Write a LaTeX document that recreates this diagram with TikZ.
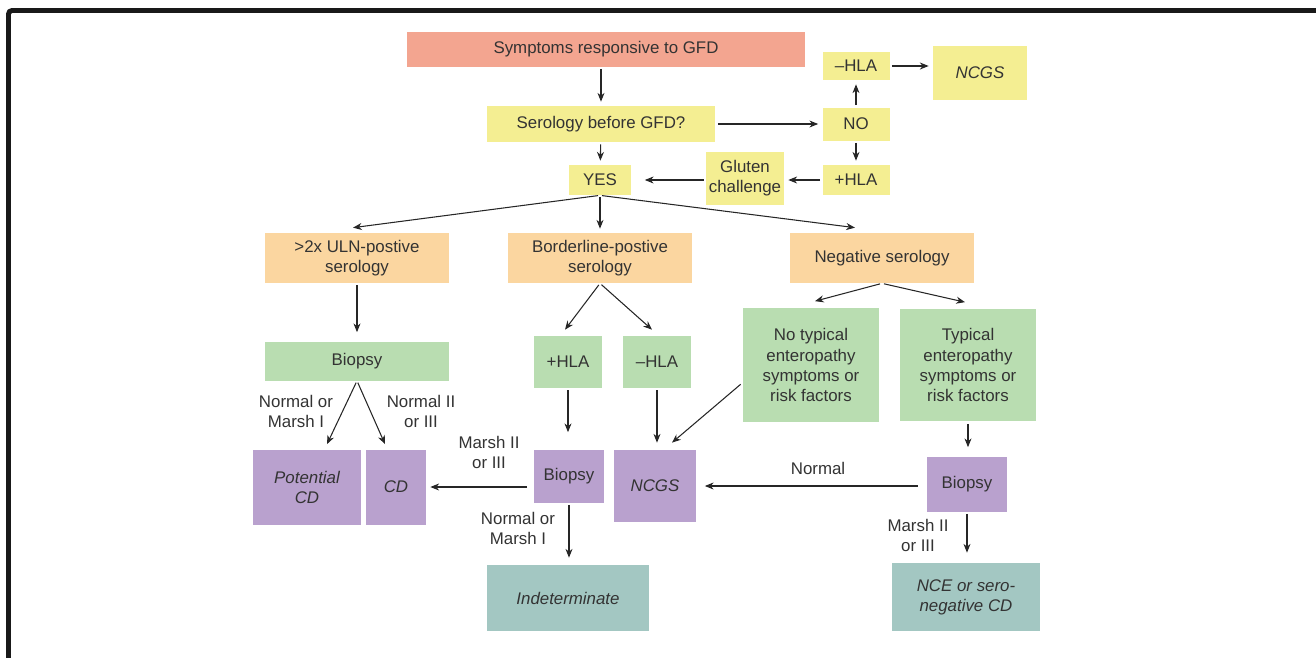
\documentclass[tikz,border=0pt]{standalone}
\usepackage{fontspec}
\setmainfont{Liberation Sans}
\usetikzlibrary{arrows.meta}
\definecolor{salmon}{HTML}{F3A590}
\definecolor{paleyellow}{HTML}{F4EE92}
\definecolor{peach}{HTML}{FBD6A0}
\definecolor{leafgreen}{HTML}{B9DDB1}
\definecolor{lilac}{HTML}{B9A1CE}
\definecolor{seafoam}{HTML}{A3C7C2}
\definecolor{inkgray}{HTML}{333333}
\tikzset{
  box/.style={inner sep=1pt, align=center, text=inkgray,
    font=\fontsize{9.6}{11.4}\selectfont},
  outcome/.style={box, font=\fontsize{9.6}{11.4}\selectfont\itshape},
  arr/.style={-{Stealth[length=5pt,width=4pt]}, line width=0.6pt, black!85,
    shorten >=0.08cm, shorten <=0.04cm},
  lbl/.style={align=center, text=inkgray, inner sep=0pt,
    font=\fontsize{9.6}{11.4}\selectfont}
}

\begin{document}
\begin{tikzpicture}[x=0.02cm, y=-0.02cm]
    \useasboundingbox (0,0) rectangle (1316,657);
    % frame
    \draw[line width=2.8pt, black!90, rounded corners=2pt] (8.5,670) -- (8.5,10.5) -- (1330,10.5);

    % top part
    \node[box, fill=salmon, minimum width=7.98cm, minimum height=0.70cm] (sym) at (606,49) {Symptoms responsive to GFD};
    \node[box, fill=paleyellow, minimum width=4.58cm, minimum height=0.72cm] (sero) at (601,124) {Serology before GFD?};
    \node[box, fill=paleyellow, minimum width=1.34cm, minimum height=0.56cm] (hlaneg) at (856,66) {--HLA};
    \node[outcome, fill=paleyellow, minimum width=1.88cm, minimum height=1.08cm] (ncgstop) at (980,73) {NCGS};
    \node[box, fill=paleyellow, minimum width=1.34cm, minimum height=0.66cm] (no) at (856,124) {NO};
    \node[box, fill=paleyellow, minimum width=1.34cm, minimum height=0.60cm] (hlapos) at (856,180) {+HLA};
    \node[box, fill=paleyellow, minimum width=1.56cm, minimum height=1.06cm] (gluten) at (745,178) {Gluten\\challenge};
    \node[box, fill=paleyellow, minimum width=1.26cm, minimum height=0.60cm] (yes) at (600,180) {YES};

    % serology results
    \node[box, fill=peach, minimum width=3.68cm, minimum height=1.00cm] (uln) at (357,258) {>2x ULN-postive\\serology};
    \node[box, fill=peach, minimum width=3.70cm, minimum height=1.00cm] (border) at (600,258) {Borderline-postive\\serology};
    \node[box, fill=peach, minimum width=3.70cm, minimum height=1.00cm] (neg) at (882,258) {Negative serology};

    % second level
    \node[box, fill=leafgreen, minimum width=3.70cm, minimum height=0.78cm] (biopleft) at (357,361) {Biopsy};
    \node[box, fill=leafgreen, minimum width=1.36cm, minimum height=1.04cm] (hlaplus) at (568,362) {+HLA};
    \node[box, fill=leafgreen, minimum width=1.36cm, minimum height=1.04cm] (hlaminus) at (657,362) {--HLA};
    \node[box, fill=leafgreen, minimum width=2.74cm, minimum height=2.30cm] (notypical) at (811,365) {No typical\\enteropathy\\symptoms or\\risk factors};
    \node[box, fill=leafgreen, minimum width=2.72cm, minimum height=2.26cm] (typical) at (968,365) {Typical\\enteropathy\\symptoms or\\risk factors};

    % outcomes
    \node[outcome, fill=lilac, minimum width=2.16cm, minimum height=1.50cm] (potcd) at (307,487) {Potential\\CD};
    \node[outcome, fill=lilac, minimum width=1.20cm, minimum height=1.50cm] (cd) at (396,487) {CD};
    \node[box, fill=lilac, minimum width=1.42cm, minimum height=1.06cm] (biopmid) at (569,476) {Biopsy};
    \node[outcome, fill=lilac, minimum width=1.66cm, minimum height=1.44cm] (ncgsmid) at (655,486) {NCGS};
    \node[box, fill=lilac, minimum width=1.60cm, minimum height=1.10cm] (biopright) at (967,484) {Biopsy};
    \node[outcome, fill=seafoam, minimum width=3.26cm, minimum height=1.32cm] (indet) at (568,598) {Indeterminate};
    \node[outcome, fill=seafoam, minimum width=2.98cm, minimum height=1.36cm] (nce) at (966,597) {NCE or sero-\\negative CD};

    % arrows, top
    \draw[arr] (sero |- sym.south) -- (sero.north);
    \draw[arr] (sero) -- (no);
    \draw[arr] (no) -- (hlaneg);
    \draw[arr] (no) -- (hlapos);
    \draw[arr, line width=1.3pt] (hlaneg.east) -- (ncgstop.west |- hlaneg);
    \draw[arr] (hlapos.west) -- (gluten.east |- hlapos);
    \draw[arr, shorten >=0.26cm] (gluten.west |- yes) -- (yes.east);
    \draw[arr] (sero) -- (yes);
    \draw[arr, shorten >=0pt] (yes.south) -- ([xshift=-0.08cm, yshift=0.1cm]uln.north);
    \draw[arr] (yes.south) -- (border.north);
    \draw[arr, shorten >=0pt] (yes.south) -- ([xshift=-0.54cm, yshift=0.1cm]neg.north);

    % arrows, middle
    \draw[arr, shorten >=0.18cm] (uln) -- (biopleft);
    \draw[arr, shorten >=0pt] (border.south) -- ([xshift=-0.06cm, yshift=0.12cm]hlaplus.north);
    \draw[arr, shorten >=0pt] (border.south) -- ([xshift=-0.1cm, yshift=0.12cm]hlaminus.north);
    \draw[arr, shorten >=0pt] (neg.south) -- ([xshift=0.08cm, yshift=0.12cm]notypical.north);
    \draw[arr, shorten >=0pt] (neg.south) -- ([xshift=-0.06cm, yshift=0.12cm]typical.north);

    % arrows, bottom
    \draw[arr, shorten >=0pt] (biopleft.south) -- ([xshift=0.4cm, yshift=0.1cm]potcd.north);
    \draw[arr, shorten >=0pt] (biopleft.south) -- ([xshift=-0.22cm, yshift=0.1cm]cd.north);
    \draw[arr, shorten >=0.34cm] (hlaplus) -- (hlaplus |- biopmid.north);
    \draw[arr, shorten >=0.14cm] (hlaminus) -- (hlaminus |- ncgsmid.north);
    \draw[arr, shorten >=0pt] ([yshift=-0.36cm]notypical.west) -- ([xshift=0.34cm, yshift=0.14cm]ncgsmid.north);
    \draw[arr, shorten >=0.18cm] (typical) -- (typical |- biopright.north);
    \draw[arr, shorten <=0.12cm] (biopmid.west |- cd.east) -- (cd.east);
    \draw[arr, shorten >=0.14cm] (biopmid) -- (biopmid |- indet.north);
    \draw[arr, shorten <=0.18cm, shorten >=0.16cm] (biopright.west |- ncgsmid.east) -- (ncgsmid.east);
    \draw[arr, shorten >=0.2cm] (biopright) -- (biopright |- nce.north);

    % branch labels
    \node[lbl] (lblnormA) at (296,411) {Normal or\\Marsh I};
    \node[lbl] (lblmarshA) at (421,411) {Normal II\\or III};
    \node[lbl] (lblmarshB) at (489,452) {Marsh II\\or III};
    \node[lbl] (lblnormB) at (518,528) {Normal or\\Marsh I};
    \node[lbl] (lblnormC) at (818,468) {Normal};
    \node[lbl] (lblmarshC) at (918,535) {Marsh II\\or III};
\end{tikzpicture}
\end{document}
